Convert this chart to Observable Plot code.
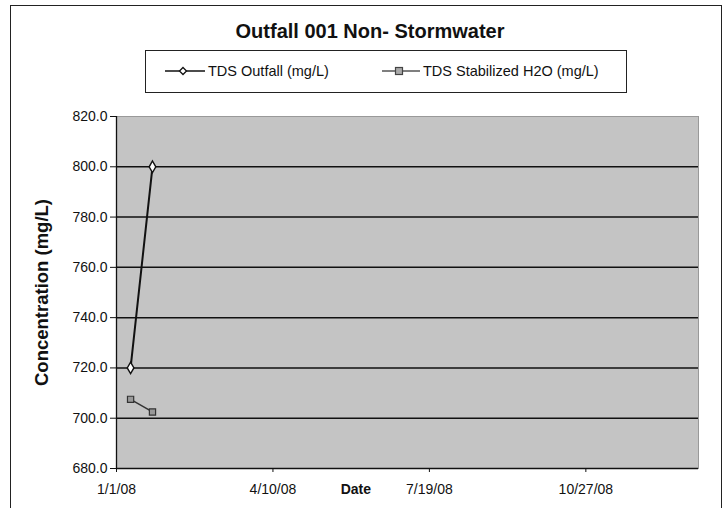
<!DOCTYPE html>
<html>
<head>
<meta charset="utf-8">
<script src="https://cdn.jsdelivr.net/npm/d3@7"></script>
<script src="https://cdn.jsdelivr.net/npm/@observablehq/plot@0.6"></script>
<style>
  html, body { margin: 0; padding: 0; background: #fff; }
  body { width: 728px; height: 508px; overflow: hidden; font-family: "Liberation Sans", Arial, sans-serif; }
  #wrap { position: relative; width: 728px; height: 508px; }
  #frame { position: absolute; left: 10px; top: 5px; width: 712px; height: 510px; border: 1px solid #222; box-sizing: border-box; pointer-events: none; }
  #title { position: absolute; left: 0; width: 740px; top: 20px; text-align: center; font-weight: bold; font-size: 20px; color: #111; }
  #legend { position: absolute; left: 145px; top: 50px; width: 482px; height: 43px; border: 1px solid #222; box-sizing: border-box; font-size: 14.5px; color: #111; }
  .item { position: absolute; top: 12px; display: flex; align-items: center; white-space: nowrap; }
  .item svg { margin-right: 3px; }
  #chart { position: absolute; left: 0; top: 0; }
</style>
</head>
<body>
<div id="wrap">
  <div id="chart"></div>
  <div id="frame"></div>
  <div id="title">Outfall 001 Non- Stormwater</div>
  <div id="legend">
    <div class="item" style="left:19px">
      <svg width="40" height="10"><line x1="0" y1="5" x2="40" y2="5" stroke="#111" stroke-width="1.3"/><path d="M18,1.5L21.5,5L18,8.5L14.5,5Z" fill="#fff" stroke="#111" stroke-width="1.3"/></svg>
      <span>TDS Outfall (mg/L)</span>
    </div>
    <div class="item" style="left:236px">
      <svg width="38" height="10"><line x1="0" y1="5" x2="38" y2="5" stroke="#555" stroke-width="1.3"/><rect x="13.5" y="1.5" width="7" height="7" fill="#aaa" stroke="#444" stroke-width="1.2"/></svg>
      <span>TDS Stabilized H2O (mg/L)</span>
    </div>
  </div>
</div>
<script>
const outfallDates = ["2008-01-10", "2008-01-24"];
const outfallValues = [720, 800];
const stabilizedDates = ["2008-01-10", "2008-01-24"];
const stabilizedValues = [707.5, 702.5];
const xTickDates = ["2008-01-01", "2008-04-10", "2008-07-19", "2008-10-27"];
const yTicks = [680, 700, 720, 740, 760, 780, 800, 820];
const gridValues = [700, 720, 740, 760, 780, 800];

const outfall = outfallDates.map((d, i) => ({date: new Date(d), value: outfallValues[i]}));
const stabilized = stabilizedDates.map((d, i) => ({date: new Date(d), value: stabilizedValues[i]}));
const fmt = d3.utcFormat("%-m/%-d/%y");

const chart = Plot.plot({
  width: 728,
  height: 508,
  marginLeft: 116,
  marginRight: 30,
  marginTop: 116,
  marginBottom: 40,
  style: {fontFamily: "Liberation Sans, Arial, sans-serif", fontSize: "14px", color: "#111", background: "transparent"},
  x: {type: "utc", domain: [new Date("2008-01-01"), new Date("2009-01-07")], label: null},
  y: {domain: [680, 820], label: null},
  marks: [
    Plot.frame({fill: "#c4c4c4", stroke: "#999"}),
    Plot.ruleY(gridValues, {stroke: "#111", strokeWidth: 1.5}),
    Plot.axisY({ticks: yTicks, tickFormat: d => d.toFixed(1), tickSize: 6, tickPadding: 3, fontSize: 14}),
    Plot.axisX({ticks: xTickDates.map(d => new Date(d)), tickFormat: fmt, tickSize: 4, tickPadding: 12, fontSize: 14}),
    Plot.ruleX([new Date("2008-01-01")], {stroke: "#111", strokeWidth: 1.3}),
    Plot.ruleY([680], {stroke: "#111", strokeWidth: 1.3}),
    Plot.lineY(outfall, {x: "date", y: "value", stroke: "#111", strokeWidth: 2}),
    Plot.dot(outfall, {x: "date", y: "value", symbol: "diamond", r: 3.5, fill: "#fff", stroke: "#111", strokeWidth: 1.4}),
    Plot.lineY(stabilized, {x: "date", y: "value", stroke: "#333", strokeWidth: 1.5}),
    Plot.dot(stabilized, {x: "date", y: "value", symbol: "square", r: 3.5, fill: "#999", stroke: "#333", strokeWidth: 1.2}),
    Plot.text(["Date"], {frameAnchor: "bottom", dy: 25, x: () => new Date("2008-06-02"), y: () => 680, text: d => d, fontSize: 14, fontWeight: "bold"}),
    Plot.text(["Concentration (mg/L)"], {frameAnchor: "left", dx: -74, rotate: -90, textAnchor: "middle", text: d => d, fontSize: 18.5, fontWeight: "bold"})
  ]
});
document.getElementById("chart").appendChild(chart);
</script>
</body>
</html>
